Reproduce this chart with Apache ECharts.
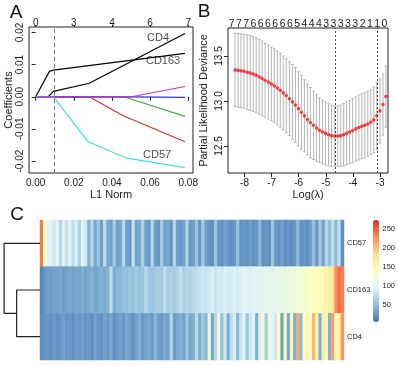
<!DOCTYPE html>
<html><head><meta charset="utf-8">
<script src="https://cdn.jsdelivr.net/npm/echarts@6/dist/echarts.min.js"></script>
<style>html,body{margin:0;padding:0;background:#fff}#c{width:398px;height:365px}</style>
</head><body><div id="c"></div>
<script>
// ---------- Panel A: coefficient paths ----------
const l1Ticks = [0, 0.02, 0.04, 0.06, 0.08];
const dfLabelsA = ['0', '3', '4', '6', '7'];
const coefTicks = [-0.02, -0.01, 0, 0.01, 0.02];
const lambdaMinL1 = 0.0093;
const pathCD4 = [[0, 0], [0.0066, 0], [0.0093, 0.0017], [0.0281, 0.0042], [0.0783, 0.0197]];
const pathCD163 = [[0, 0], [0.0072, 0.0079], [0.0093, 0.0083], [0.0783, 0.0135]];
const pathRed = [[0, 0], [0.0281, 0], [0.0459, -0.0059], [0.0783, -0.0140]];
const pathGreen = [[0, 0], [0.0463, 0], [0.0783, -0.0061]];
const pathBlue = [[0, 0], [0.0503, 0], [0.0783, -0.0002]];
const pathCyan = [[0, 0], [0.0093, 0], [0.0276, -0.0140], [0.0477, -0.0191], [0.0783, -0.0220]];
const pathMagenta = [[0, 0], [0.0503, 0], [0.0783, 0.0032]];
const pathLabelNames = ['CD4', 'CD163', 'CD57'];
const pathLabelX = [0.0642, 0.0668, 0.0637];
const pathLabelY = [0.0182, 0.0111, -0.0182];

// ---------- Panel B: cross-validation curve ----------
const logLambda = [-8.35, -8.24, -8.13, -8.02, -7.90, -7.79, -7.68, -7.57, -7.46, -7.35,
  -7.24, -7.12, -7.01, -6.90, -6.79, -6.68, -6.57, -6.46, -6.34, -6.23,
  -6.12, -6.01, -5.90, -5.79, -5.68, -5.57, -5.45, -5.34, -5.23, -5.12,
  -5.01, -4.90, -4.79, -4.67, -4.56, -4.45, -4.34, -4.23, -4.12, -4.01,
  -3.89, -3.78, -3.67, -3.56, -3.45, -3.34, -3.23, -3.12, -3.00, -2.89, -2.78];
const cvMean = [13.345, 13.34, 13.335, 13.33, 13.32, 13.31, 13.30, 13.285, 13.27, 13.25,
  13.23, 13.21, 13.19, 13.17, 13.145, 13.12, 13.09, 13.06, 13.025, 12.99,
  12.955, 12.915, 12.875, 12.835, 12.795, 12.76, 12.73, 12.70, 12.675, 12.655,
  12.64, 12.625, 12.615, 12.61, 12.61, 12.615, 12.625, 12.64, 12.655, 12.67,
  12.69, 12.705, 12.72, 12.73, 12.745, 12.765, 12.79, 12.835, 12.89, 12.96, 13.05];
const cvSE = [0.405, 0.41, 0.41, 0.41, 0.415, 0.415, 0.415, 0.415, 0.415, 0.415,
  0.41, 0.41, 0.41, 0.41, 0.41, 0.41, 0.41, 0.41, 0.41, 0.415,
  0.415, 0.41, 0.41, 0.40, 0.395, 0.39, 0.38, 0.37, 0.36, 0.355,
  0.35, 0.345, 0.34, 0.335, 0.335, 0.34, 0.345, 0.35, 0.35, 0.355,
  0.355, 0.36, 0.36, 0.36, 0.36, 0.36, 0.365, 0.375, 0.355, 0.34, 0.34];
const nzLabels = ['7', '7', '7', '6', '6', '6', '6', '6', '6', '5', '4', '4', '4', '3', '3', '3', '3', '3', '2', '1', '1', '0'];
const lambdaLines = [-4.65, -3.10];
const logLambdaTicks = [-8, -7, -6, -5, -4, -3];
const devianceTicks = [12.5, 13.0, 13.5];

// ---------- Panel C: heatmap ----------
const geneNames = ['CD57', 'CD163', 'CD4'];
const cd57Vals = [240, 135, 100, 95, 85, 100, 70, 95, 80, 100, 75, 90, 65, 95, 85, 40, 70, 35, 55, 30, 75, 35, 30, 60, 30,
  35, 70, 30, 25, 80, 30, 35, 65, 30, 25, 70, 30, 25, 60, 30, 35, 25, 70, 30, 25, 30, 65, 25, 30, 55,
  25, 60, 30, 25, 20, 55, 25, 20, 30, 25, 20, 25, 50, 20, 25, 20, 30, 20, 25, 45, 20, 25, 20, 55, 25,
  20, 30, 20, 25, 20, 25, 45, 20, 25, 20, 30, 50, 25, 60, 30, 70, 50, 75, 45, 80, 20];
const cd163Vals = [15, 25, 30, 28, 32, 30, 35, 28, 30, 33, 30, 35, 32, 38, 30, 35, 40, 33, 38, 42, 35, 40, 75, 38, 45,
  45, 50, 48, 55, 50, 60, 52, 55, 70, 58, 55, 60, 62, 58, 75, 62, 65, 60, 68, 80, 65, 70, 68, 72, 75,
  78, 82, 80, 85, 90, 82, 88, 85, 92, 88, 90, 95, 88, 92, 98, 95, 92, 100, 96, 98, 102, 100, 105, 100, 108,
  105, 110, 108, 112, 118, 115, 122, 120, 125, 130, 138, 135, 145, 140, 150, 155, 165, 175, 230, 245, 235];
const cd4Vals = [20, 22, 25, 20, 28, 22, 25, 30, 22, 25, 20, 28, 24, 30, 22, 26, 20, 32, 25, 22, 30, 25, 35, 22, 28,
  30, 25, 35, 28, 22, 30, 40, 25, 30, 35, 28, 45, 30, 25, 35, 30, 70, 28, 35, 40, 30, 55, 35, 40, 75,
  40, 60, 45, 125, 35, 70, 120, 50, 85, 40, 75, 90, 45, 80, 95, 55, 85, 100, 40, 90, 130, 60, 110, 95, 85,
  140, 30, 135, 35, 150, 40, 215, 45, 140, 155, 135, 210, 150, 40, 160, 145, 40, 220, 160, 150, 225];
const dendroHeights = [0.65, 1.0]; // [CD163+CD4 merge, root merge]
const colorbarTicks = [50, 100, 150, 200, 250];
const colorMin = 4, colorMax = 275;

// ---------- build ----------
const FONT = 'Liberation Sans, Arial, sans-serif';
const TXT = '#1a1a1a';
const chart = echarts.init(document.getElementById('c'), null, { renderer: 'canvas' });

const heatRows = [cd57Vals, cd163Vals, cd4Vals];
const heatData = [];
heatRows.forEach((row, r) => row.forEach((v, c) => heatData.push([c, r, v])));
const sampleIds = cd57Vals.map((_, i) => 'S' + (i + 1));

const subMid = (1 + 2) / 2;
const dendroSub = [[0, 1], [dendroHeights[0], 1], [dendroHeights[0], 2], [0, 2]];
const dendroRoot = [[0, 0], [dendroHeights[1], 0], [dendroHeights[1], subMid], [dendroHeights[0], subMid]];

function pathSeries(data, color) {
  return {
    type: 'line', xAxisIndex: 0, yAxisIndex: 0, data: data, showSymbol: false, symbol: 'none',
    lineStyle: { color: color, width: 1.2 }, silent: true, animation: false
  };
}

const hidden = { show: false };
const tickFont = { fontFamily: FONT, fontSize: 10, color: TXT };

const option = {
  animation: false,
  textStyle: { fontFamily: FONT },
  grid: [
    { left: 29, top: 27, width: 164, height: 146, show: true, borderColor: '#222', borderWidth: 1 },
    { left: 228, top: 28, width: 160, height: 145, show: true, borderColor: '#222', borderWidth: 1 },
    { left: 40, top: 220, width: 304, height: 140 },
    { left: 3, top: 220, width: 37, height: 140 },
    { left: 373, top: 220, width: 6, height: 102 }
  ],
  xAxis: [
    { gridIndex: 0, type: 'value', min: -0.0035, max: 0.0825, position: 'bottom',
      name: 'L1 Norm', nameLocation: 'middle', nameGap: 16,
      nameTextStyle: { fontFamily: FONT, fontSize: 11, color: TXT },
      axisLine: hidden, splitLine: hidden,
      axisTick: { show: true, inside: false, length: 4, customValues: l1Ticks, lineStyle: { color: '#222' } },
      axisLabel: Object.assign({ customValues: l1Ticks, margin: 5, formatter: v => v.toFixed(2) }, tickFont) },
    { gridIndex: 0, type: 'value', min: -0.0035, max: 0.0825, position: 'top',
      axisLine: hidden, splitLine: hidden,
      axisTick: { show: true, inside: false, length: 2, customValues: l1Ticks, lineStyle: { color: '#222' } },
      axisLabel: Object.assign({ customValues: l1Ticks, margin: -1,
        formatter: v => dfLabelsA[l1Ticks.findIndex(t => Math.abs(t - v) < 1e-9)] }, tickFont) },
    { gridIndex: 1, type: 'value', min: -8.609, max: -2.705, position: 'bottom',
      name: 'Log(\u03bb)', nameLocation: 'middle', nameGap: 16,
      nameTextStyle: { fontFamily: FONT, fontSize: 11, color: TXT },
      axisLine: hidden, splitLine: hidden,
      axisTick: { show: true, inside: false, length: 4, customValues: logLambdaTicks, lineStyle: { color: '#222' } },
      axisLabel: Object.assign({ customValues: logLambdaTicks, margin: 5, formatter: v => String(v) }, tickFont) },
    { gridIndex: 1, type: 'category', data: nzLabels, position: 'top', boundaryGap: true,
      axisLine: hidden, axisTick: hidden, splitLine: hidden,
      axisLabel: { interval: 0, margin: -2, fontFamily: FONT, fontSize: 10.5, color: TXT } },
    { gridIndex: 2, type: 'category', data: sampleIds, show: false },
    { gridIndex: 3, type: 'value', min: 0, max: 1.03, inverse: true, show: false },
    { gridIndex: 4, type: 'value', min: 0, max: 1, show: false }
  ],
  yAxis: [
    { gridIndex: 0, type: 'value', min: -0.0237, max: 0.0217,
      name: 'Coefficients', nameLocation: 'middle', nameGap: 15,
      nameTextStyle: { fontFamily: FONT, fontSize: 11, color: TXT },
      axisLine: hidden, splitLine: hidden,
      axisTick: { show: true, inside: false, length: 4, customValues: coefTicks, lineStyle: { color: '#222' } },
      axisLabel: Object.assign({ customValues: coefTicks, margin: 4, rotate: 90, formatter: v => v.toFixed(2) }, tickFont) },
    { gridIndex: 1, type: 'value', min: 12.2, max: 13.811,
      name: 'Partial Likelihood Deviance', nameLocation: 'middle', nameGap: 19,
      nameTextStyle: { fontFamily: FONT, fontSize: 11, color: TXT },
      axisLine: hidden, splitLine: hidden,
      axisTick: { show: true, inside: false, length: 4, customValues: devianceTicks, lineStyle: { color: '#222' } },
      axisLabel: Object.assign({ customValues: devianceTicks, margin: 4, rotate: 90, formatter: v => v.toFixed(1) }, tickFont) },
    { gridIndex: 2, type: 'category', data: geneNames, inverse: true, position: 'right',
      axisLine: hidden, axisTick: hidden, splitLine: hidden,
      axisLabel: { margin: 3, fontFamily: FONT, fontSize: 7.5, color: TXT } },
    { gridIndex: 3, type: 'value', min: -0.5, max: 2.5, inverse: true, show: false },
    { gridIndex: 4, type: 'value', min: colorMin, max: colorMax, position: 'right',
      axisLine: hidden, axisTick: hidden, splitLine: hidden,
      axisLabel: { customValues: colorbarTicks, margin: 4, fontFamily: FONT, fontSize: 7.5, color: TXT } }
  ],
  visualMap: {
    type: 'continuous', min: colorMin, max: colorMax, seriesIndex: 10,
    left: 373, top: 220, itemWidth: 6, itemHeight: 102, padding: 0,
    calculable: false, orient: 'vertical', text: null, showLabel: false,
    inRange: { color: ['#4575B4', '#91BFDB', '#E0F3F8', '#FFFFBF', '#FEE090', '#FC8D59', '#D73027'] }
  },
  graphic: [
    { type: 'text', x: 16, y: 13, style: { text: 'A', fontFamily: FONT, fontSize: 19, fill: '#111', align: 'center', verticalAlign: 'middle' } },
    { type: 'text', x: 204, y: 12, style: { text: 'B', fontFamily: FONT, fontSize: 19, fill: '#111', align: 'center', verticalAlign: 'middle' } },
    { type: 'text', x: 17, y: 215, style: { text: 'C', fontFamily: FONT, fontSize: 19, fill: '#111', align: 'center', verticalAlign: 'middle' } }
  ],
  series: [
    Object.assign(pathSeries(pathCD4, '#000000'), {
      markLine: { silent: true, symbol: ['none', 'none'], label: { show: false },
        lineStyle: { color: '#777', type: [4, 3], width: 1 }, data: [{ xAxis: lambdaMinL1 }] } }),
    pathSeries(pathCD163, '#000000'),
    pathSeries(pathRed, '#d63333'),
    pathSeries(pathGreen, '#44aa44'),
    pathSeries(pathBlue, '#3333cc'),
    pathSeries(pathCyan, '#3fe0e0'),
    pathSeries(pathMagenta, '#cc33cc'),
    { type: 'scatter', xAxisIndex: 0, yAxisIndex: 0, symbolSize: 0, silent: true,
      data: pathLabelNames.map((n, i) => ({ name: n, value: [pathLabelX[i], pathLabelY[i]] })),
      label: { show: true, position: 'inside', formatter: p => p.name, fontFamily: FONT, fontSize: 11, color: TXT } },
    { type: 'custom', xAxisIndex: 2, yAxisIndex: 1, silent: true,
      data: logLambda.map((x, i) => [x, cvMean[i] - cvSE[i], cvMean[i] + cvSE[i]]),
      encode: { x: 0, y: [1, 2] },
      renderItem: (params, api) => {
        const x = api.value(0), lo = api.value(1), hi = api.value(2);
        const pLo = api.coord([x, lo]), pHi = api.coord([x, hi]);
        const w = 1.4;
        const st = { stroke: '#b4b4b4', lineWidth: 1 };
        return { type: 'group', children: [
          { type: 'line', shape: { x1: pLo[0], y1: pLo[1], x2: pHi[0], y2: pHi[1] }, style: st },
          { type: 'line', shape: { x1: pHi[0] - w, y1: pHi[1], x2: pHi[0] + w, y2: pHi[1] }, style: st },
          { type: 'line', shape: { x1: pLo[0] - w, y1: pLo[1], x2: pLo[0] + w, y2: pLo[1] }, style: st }
        ] };
      } },
    { type: 'scatter', xAxisIndex: 2, yAxisIndex: 1, symbol: 'circle', symbolSize: 3.6, silent: true,
      itemStyle: { color: '#ee1c1c' },
      data: logLambda.map((x, i) => [x, cvMean[i]]),
      markLine: { silent: true, symbol: ['none', 'none'], label: { show: false },
        lineStyle: { color: '#444', type: [2, 2], width: 1 },
        data: lambdaLines.map(v => ({ xAxis: v })) } },
    { type: 'heatmap', xAxisIndex: 4, yAxisIndex: 2, data: heatData, silent: true,
      itemStyle: { borderWidth: 0 }, emphasis: { disabled: true } },
    { type: 'line', xAxisIndex: 5, yAxisIndex: 3, data: dendroSub, symbol: 'none', silent: true,
      lineStyle: { color: '#222', width: 1.2 }, clip: false },
    { type: 'line', xAxisIndex: 5, yAxisIndex: 3, data: dendroRoot, symbol: 'none', silent: true,
      lineStyle: { color: '#222', width: 1.2 }, clip: false }
  ]
};
chart.setOption(option);
</script></body></html>
